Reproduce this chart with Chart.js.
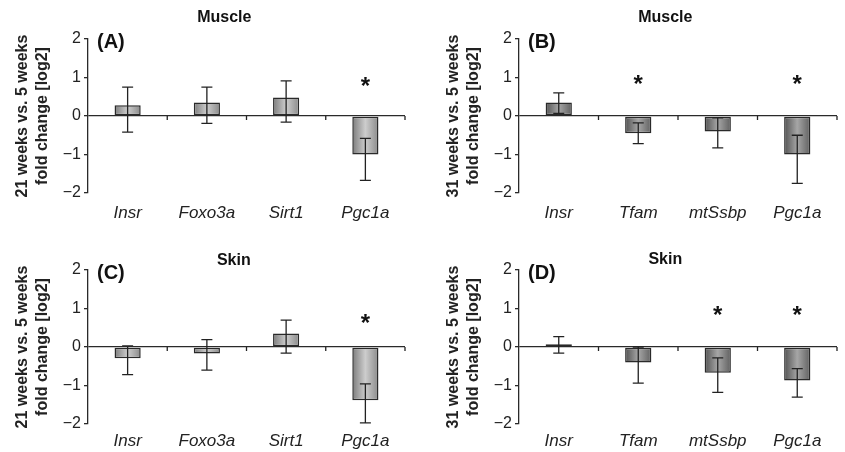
<!DOCTYPE html>
<html>
<head>
<meta charset="utf-8">
<script src="https://cdn.jsdelivr.net/npm/chart.js@4.4.1/dist/chart.umd.min.js"></script>
<style>
  body { margin: 0; background: #fff; width: 845px; height: 452px; position: relative; overflow: hidden; }
  .panel { position: absolute; }
</style>
</head>
<body>
<div class="panel" style="left:0;top:0;width:431px;height:226px"><canvas id="chart-a"></canvas></div>
<div class="panel" style="left:431px;top:0;width:414px;height:226px"><canvas id="chart-b"></canvas></div>
<div class="panel" style="left:0;top:231px;width:431px;height:221px"><canvas id="chart-c"></canvas></div>
<div class="panel" style="left:431px;top:231px;width:414px;height:221px"><canvas id="chart-d"></canvas></div>
<script>
const FONT = "'Liberation Sans', Arial, sans-serif";

// tick labels
const yTicks = [-2, -1, 0, 1, 2];

// (A) muscle, 21 vs 5 weeks
const genesA = ['Insr', 'Foxo3a', 'Sirt1', 'Pgc1a'];
const valuesA = [0.28, 0.35, 0.48, -1.0];
const errHiA = [0.75, 0.75, 0.91, -0.58];
const errLoA = [-0.42, -0.19, -0.16, -1.67];
const sigA = [false, false, false, true];

// (B) muscle, 31 vs 5 weeks
const genesB = ['Insr', 'Tfam', 'mtSsbp', 'Pgc1a'];
const valuesB = [0.35, -0.45, -0.40, -1.0];
const errHiB = [0.60, -0.18, -0.05, -0.50];
const errLoB = [0.07, -0.72, -0.83, -1.75];
const sigB = [false, true, false, true];

// (C) skin, 21 vs 5 weeks
const genesC = ['Insr', 'Foxo3a', 'Sirt1', 'Pgc1a'];
const valuesC = [-0.29, -0.17, 0.35, -1.38];
const errHiC = [0.03, 0.19, 0.70, -0.96];
const errLoC = [-0.72, -0.60, -0.16, -1.97];
const sigC = [false, false, false, true];

// (D) skin, 31 vs 5 weeks
const genesD = ['Insr', 'Tfam', 'mtSsbp', 'Pgc1a'];
const valuesD = [0.07, -0.40, -0.67, -0.87];
const errHiD = [0.27, 0.0, -0.28, -0.56];
const errLoD = [-0.16, -0.94, -1.18, -1.30];
const sigD = [false, false, true, true];

const BAR_PCT = 0.33;

function barFill(dark) {
    return (ctx) => {
        const chart = ctx.chart;
        const x = chart.scales.x;
        if (!chart.chartArea || !x) return dark ? '#7a7a7a' : '#aaaaaa';
        const cx = x.getPixelForValue(ctx.dataIndex);
        const half = x.width / chart.data.labels.length * BAR_PCT / 2;
        const g = chart.ctx.createLinearGradient(cx - half, 0, cx + half, 0);
        if (dark) {
            g.addColorStop(0, '#525252');
            g.addColorStop(0.5, '#a6a6a6');
            g.addColorStop(1, '#606060');
        } else {
            g.addColorStop(0, '#7c7c7c');
            g.addColorStop(0.5, '#cdcdcd');
            g.addColorStop(1, '#8a8a8a');
        }
        return g;
    };
}

const extras = {
    id: 'extras',
    afterDatasetsDraw(chart, args, opts) {
        const { ctx, chartArea, scales: { x, y } } = chart;
        const n = chart.data.labels.length;
        const y0 = y.getPixelForValue(0);
        ctx.save();
        ctx.strokeStyle = '#222';
        ctx.lineWidth = 1.3;

        // little ticks between categories on the zero line
        for (let i = 1; i <= n; i++) {
            const px = x.getPixelForValue(i - 0.5);
            ctx.beginPath();
            ctx.moveTo(px, y0);
            ctx.lineTo(px, y0 + 4);
            ctx.stroke();
        }

        // error bars
        opts.hi.forEach((h, i) => {
            const cx = x.getPixelForValue(i);
            const top = y.getPixelForValue(h);
            const bot = y.getPixelForValue(opts.lo[i]);
            ctx.beginPath();
            ctx.moveTo(cx, top); ctx.lineTo(cx, bot);
            ctx.moveTo(cx - 5.5, top); ctx.lineTo(cx + 5.5, top);
            ctx.moveTo(cx - 5.5, bot); ctx.lineTo(cx + 5.5, bot);
            ctx.stroke();
        });

        // significance stars
        ctx.fillStyle = '#111';
        ctx.font = `bold 24px ${FONT}`;
        ctx.textAlign = 'center';
        ctx.textBaseline = 'alphabetic';
        opts.sig.forEach((s, i) => {
            if (!s) return;
            ctx.fillText('*', x.getPixelForValue(i), y.getPixelForValue(opts.starLevel) + 9.5);
        });

        // panel letter
        ctx.font = `bold 20px ${FONT}`;
        ctx.textAlign = 'left';
        ctx.textBaseline = 'middle';
        ctx.fillText(opts.letter, chartArea.left + 9, chartArea.top + 3);

        // panel title
        ctx.font = `bold 16px ${FONT}`;
        ctx.textAlign = 'center';
        ctx.fillText(opts.title, chartArea.left + chartArea.width * opts.titlePos, opts.titleY);
        ctx.restore();
    }
};

function makePanel(id, p) {
    return new Chart(document.getElementById(id), {
        type: 'bar',
        data: {
            labels: p.genes,
            datasets: [{
                data: p.values,
                backgroundColor: barFill(p.dark),
                borderColor: '#2a2a2a',
                borderWidth: 1.5,
                borderSkipped: false,
                barPercentage: BAR_PCT,
                categoryPercentage: 1
            }]
        },
        options: {
            responsive: true,
            maintainAspectRatio: false,
            animation: false,
            layout: { padding: { top: 39, right: p.padRight, left: 0, bottom: 0 } },
            plugins: {
                legend: { display: false },
                tooltip: { enabled: false },
                title: { display: false },
                extras: {
                    hi: p.hi, lo: p.lo, sig: p.sig, starLevel: p.starLevel,
                    letter: p.letter, title: p.title, titlePos: p.titlePos, titleY: p.titleY
                }
            },
            scales: {
                x: {
                    grid: { display: false, drawTicks: false },
                    border: { display: false },
                    ticks: {
                        color: '#222',
                        padding: p.labelPad,
                        font: { family: FONT, size: 17, style: 'italic' }
                    },
                    afterFit: (scale) => { scale.height = p.xHeight; }
                },
                y: {
                    min: yTicks[0],
                    max: yTicks[yTicks.length - 1],
                    afterBuildTicks: (scale) => { scale.ticks = yTicks.map(v => ({ value: v })); },
                    grid: {
                        color: (c) => c.tick && c.tick.value === 0 ? '#2a2a2a' : 'rgba(0,0,0,0)',
                        lineWidth: 1.3,
                        tickColor: '#2a2a2a',
                        tickLength: 4
                    },
                    border: { color: '#2a2a2a', width: 1.3 },
                    ticks: {
                        color: '#222',
                        padding: 3,
                        font: { family: FONT, size: 16 },
                        callback: (v) => String(v).replace('-', '\u2212')
                    },
                    title: {
                        display: true,
                        text: p.yTitle,
                        color: '#222',
                        padding: { top: 13, bottom: 0 },
                        font: { family: FONT, size: 16, weight: 'bold', lineHeight: 1.25 }
                    },
                    afterFit: (scale) => { scale.width = 88; }
                }
            }
        },
        plugins: [extras]
    });
}

makePanel('chart-a', {
    genes: genesA, values: valuesA, hi: errHiA, lo: errLoA, sig: sigA, dark: false,
    letter: '(A)', title: 'Muscle', titlePos: 0.43, titleY: 18, starLevel: 0.83,
    yTitle: ['21 weeks vs. 5 weeks', 'fold change [log2]'],
    padRight: 26, xHeight: 33, labelPad: 10
});
makePanel('chart-b', {
    genes: genesB, values: valuesB, hi: errHiB, lo: errLoB, sig: sigB, dark: true,
    letter: '(B)', title: 'Muscle', titlePos: 0.46, titleY: 18, starLevel: 0.87,
    yTitle: ['31 weeks vs. 5 weeks', 'fold change [log2]'],
    padRight: 8, xHeight: 33, labelPad: 10
});
makePanel('chart-c', {
    genes: genesC, values: valuesC, hi: errHiC, lo: errLoC, sig: sigC, dark: false,
    letter: '(C)', title: 'Skin', titlePos: 0.46, titleY: 30, starLevel: 0.67,
    yTitle: ['21 weeks vs. 5 weeks', 'fold change [log2]'],
    padRight: 26, xHeight: 28, labelPad: 7
});
makePanel('chart-d', {
    genes: genesD, values: valuesD, hi: errHiD, lo: errLoD, sig: sigD, dark: true,
    letter: '(D)', title: 'Skin', titlePos: 0.46, titleY: 29, starLevel: 0.88,
    yTitle: ['31 weeks vs. 5 weeks', 'fold change [log2]'],
    padRight: 8, xHeight: 28, labelPad: 7
});
</script>
</body>
</html>
